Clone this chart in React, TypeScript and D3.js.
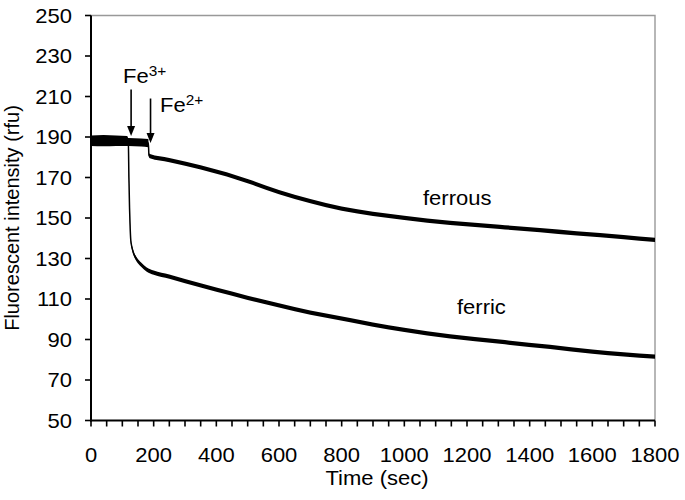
import React from 'react';
import * as d3 from 'd3';

// time (sec) / fluorescence (rfu)
const ferricTime = [0, 40, 80, 115, 119, 121, 123, 125, 127, 130, 135, 146, 160, 178, 200, 250, 300, 400, 500, 600, 700, 827, 900, 1000, 1146, 1305, 1465, 1600, 1700, 1800];
const ferricValue = [188.8, 189, 188.8, 188.5, 188, 170, 155, 145, 139, 136, 133, 129.5, 127, 124.5, 123, 121, 118.8, 114.6, 110.6, 106.8, 103.3, 99.6, 97.4, 94.8, 91.6, 88.9, 86.3, 84, 82.6, 81.5];

const ferrousTime = [0, 40, 80, 120, 160, 183, 185, 188, 250, 350, 433, 507, 600, 700, 800, 900, 1000, 1146, 1305, 1433, 1550, 1700, 1800];
const ferrousValue = [187.6, 187.4, 187.6, 187.5, 187.3, 187, 181, 180.5, 178.6, 175, 171.5, 167.8, 162.8, 158.3, 154.6, 152, 150.1, 147.6, 145.6, 144, 142.4, 140.6, 139.2];

const fe3Time = 128;
const fe2Time = 190;

const yTickLabels = [50, 70, 90, 110, 130, 150, 170, 190, 210, 230, 250];
const xTickLabels = [0, 200, 400, 600, 800, 1000, 1200, 1400, 1600, 1800];

const W = 685;
const H = 500;
const margin = { left: 91, right: 30, top: 15.5, bottom: 79.5 };
const FONT = "'Liberation Sans', Arial, Helvetica, sans-serif";

// the source figure's lettering is a little wider than plain Arial
const T = ({ x, y, size = 20, anchor = 'start', dy, children }: any) => (
  <g transform={`translate(${x},${y}) scale(1.1,1)`}>
    <text textAnchor={anchor} dy={dy} fontSize={size} fill="#000">{children}</text>
  </g>
);

const App = () => {
  const x = d3.scaleLinear().domain([0, 1800]).range([margin.left, W - margin.right]);
  const y = d3.scaleLinear().domain([50, 250]).range([H - margin.bottom, margin.top]);
  const minorX = d3.range(0, 1801, 50);

  const ferric = ferricTime.map((t, i) => ({ t, v: ferricValue[i] }));
  const ferrous = ferrousTime.map((t, i) => ({ t, v: ferrousValue[i] }));

  // noise band: baseline before addition is noisier
  const band = (addAt: number) =>
    d3.area<{ t: number; v: number }>()
      .x(d => x(d.t))
      .y0(d => y(d.v - (d.t < addAt ? 2.0 : 1.05)))
      .y1(d => y(d.v + (d.t < addAt ? 2.0 : 1.05)))
      .curve(d3.curveMonotoneX);
  const line = d3.line<{ t: number; v: number }>()
    .x(d => x(d.t))
    .y(d => y(d.v))
    .curve(d3.curveMonotoneX);

  const x0 = x(0);
  const y0 = y(50);
  const x1 = x(1800);
  const y1 = y(250);

  const arrow = (t: number, top: number, tip: number) => {
    const ax = x(t);
    const ty = y(top);
    const py = y(tip);
    return (
      <g>
        <line x1={ax} x2={ax} y1={ty} y2={py - 8} stroke="#000" strokeWidth={1.6} />
        <path d={`M${ax - 4},${py - 10} L${ax + 4},${py - 10} L${ax},${py} Z`} fill="#000" />
      </g>
    );
  };

  return (
    <div style={{ position: 'absolute', left: 0, top: 0 }}>
      <svg width={W} height={H} style={{ display: 'block', background: '#fff' }} fontFamily={FONT}>
        {/* frame top/right */}
        <path d={`M${x0},${y1} L${x1},${y1} L${x1},${y0}`} fill="none" stroke="#999" strokeWidth={1.4} />

        {/* traces */}
        <path d={band(119)(ferric) || ''} fill="#000" />
        <path d={line(ferric) || ''} fill="none" stroke="#000" strokeWidth={1.5} />
        <path d={band(184)(ferrous) || ''} fill="#000" />
        <path d={line(ferrous) || ''} fill="none" stroke="#000" strokeWidth={1.5} />

        {/* axes */}
        <line x1={x0} x2={x0} y1={y1} y2={y0 + 1} stroke="#000" strokeWidth={2} />
        <line x1={x0 - 1} x2={x1} y1={y0} y2={y0} stroke="#000" strokeWidth={2} />
        {yTickLabels.map(v => (
          <g key={'y' + v}>
            <line x1={x0 - 6} x2={x0} y1={y(v)} y2={y(v)} stroke="#000" strokeWidth={1.6} />
            <T x={72} y={y(v)} dy="0.36em" anchor="end">{v}</T>
          </g>
        ))}
        {minorX.map(t => (
          <line key={'xt' + t} x1={x(t)} x2={x(t)} y1={y0} y2={y0 + 6} stroke="#000" strokeWidth={1.6} />
        ))}
        {xTickLabels.map(t => (
          <T key={'xl' + t} x={x(t)} y={461.5} anchor="middle">{t}</T>
        ))}

        {/* axis titles */}
        <T x={377} y={485} anchor="middle">Time (sec)</T>
        <text transform={`translate(18.5,${(y0 + y1) / 2}) rotate(-90)`} textAnchor="middle" fontSize={20} fill="#000">
          Fluorescent intensity (rfu)
        </text>

        {/* additions */}
        {arrow(fe3Time, 213.5, 190.5)}
        {arrow(fe2Time, 209, 187)}
        <T x={123} y={83}>
          Fe<tspan dy={-7} fontSize={14}>3+</tspan>
        </T>
        <T x={160} y={112}>
          Fe<tspan dy={-7} fontSize={14}>2+</tspan>
        </T>

        {/* series labels */}
        <T x={423} y={205}>ferrous</T>
        <T x={457} y={314}>ferric</T>
      </svg>
    </div>
  );
};

export default App;
